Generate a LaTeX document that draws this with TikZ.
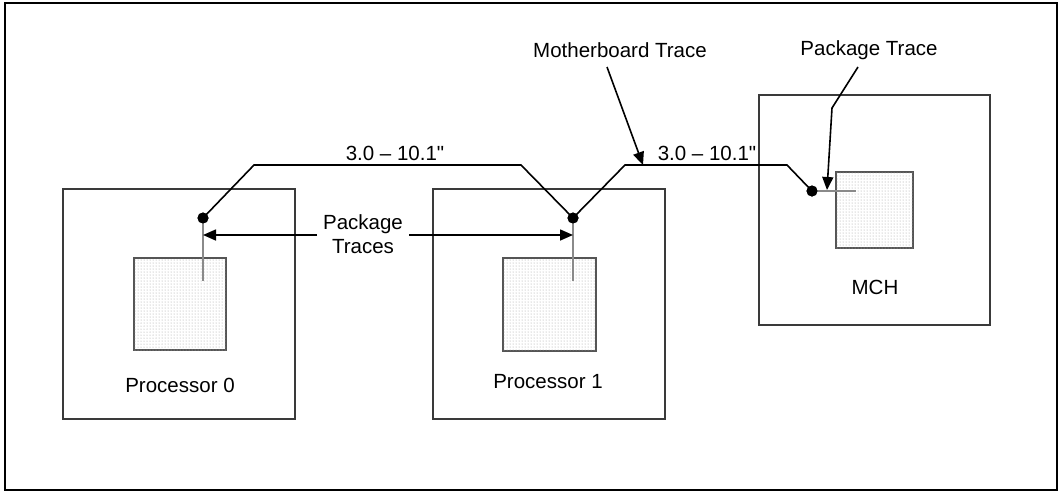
\documentclass[tikz,border=0pt]{standalone}
\usepackage{fontspec}
\setmainfont{Liberation Sans}
\usetikzlibrary{arrows.meta,patterns}
\definecolor{boxline}{HTML}{3A3A3A}
\definecolor{chipline}{HTML}{555555}
\definecolor{stubgray}{HTML}{8A8A8A}
\tikzset{
  pkg/.style={draw=boxline, line width=1.1pt},
  chip/.style={draw=chipline, line width=1.4pt, fill=white, postaction={pattern=dots, pattern color=gray!75}},
  via/.style={circle, fill=black, inner sep=0pt, minimum size=11pt},
  stub/.style={draw=stubgray, line width=2pt},
  trace/.style={draw=black, line width=1.6pt, line join=miter},
  callout/.style={draw=black, line width=1.6pt, -{Triangle[length=13pt,width=11pt]}},
  lbl/.style={font=\fontsize{20.5}{24}\selectfont, inner sep=0pt, align=center},
}
\begin{document}
\begin{tikzpicture}[x=1pt, y=-1pt]
  \useasboundingbox (0,0) rectangle (1058,491);
  % board outline
  \draw[line width=2.2pt] (5,3) rectangle (1057,490);

  % processor packages
  \draw[pkg] (63,189) rectangle (295,419);
  \draw[pkg] (433,189) rectangle (665,419);
  \draw[pkg] (759,95) rectangle (990,325);

  % dies
  \path[chip] (134,258) rectangle (226,350);
  \path[chip] (503,258) rectangle (596,351);
  \path[chip] (836,172) rectangle (913,248);

  % package trace stubs
  \coordinate (s0) at (203,281);
  \coordinate (s1) at (573,281);
  \coordinate (s2) at (856,191);
  \node[via] (d0) at (203,218) {};
  \node[via] (d1) at (573,218) {};
  \node[via] (d2) at (812,191) {};
  \draw[stub] (d0.center) -- (s0);
  \draw[stub] (d1.center) -- (s1);
  \draw[stub] (d2.center) -- (s2);
  \node[via] at (d0) {};
  \node[via] at (d1) {};
  \node[via] at (d2) {};

  % motherboard traces
  \coordinate (b0) at (254,165);
  \coordinate (b1) at (521,165);
  \coordinate (b2) at (625,165);
  \coordinate (b3) at (787,165);
  \draw[trace] (d0.center) -- (b0) -- (b1) -- (d1.center) -- (b2) -- (b3) -- (d2.center);

  % lengths
  \node[lbl] (len1) at (395,153) {3.0 – 10.1\textquotedbl};
  \node[lbl] (len2) at (707,153) {3.0 – 10.1\textquotedbl};

  % labels
  \node[lbl] (pt) at (363,234) {Package\\Traces};
  \coordinate (pt0) at (203,235);
  \coordinate (pt1) at (573,235);
  \draw[callout] (317,235) -- (pt0);
  \draw[callout] (409,235) -- (pt1);

  \node[lbl] (mbt) at (620,50) {Motherboard Trace};
  \node[lbl] (pkt) at (869,50) {Package Trace};
  \coordinate (mbtip) at (643,165);
  \coordinate (pktip) at (827,190);
  \draw[callout] (607,67) -- (mbtip);
  \draw[callout] (858,67) -- (832,108) -- (pktip);

  \node[lbl] (p0) at (180,385) {Processor 0};
  \node[lbl] (p1) at (548,382) {Processor 1};
  \node[lbl] (mch) at (875,287) {MCH};
\end{tikzpicture}
\end{document}
